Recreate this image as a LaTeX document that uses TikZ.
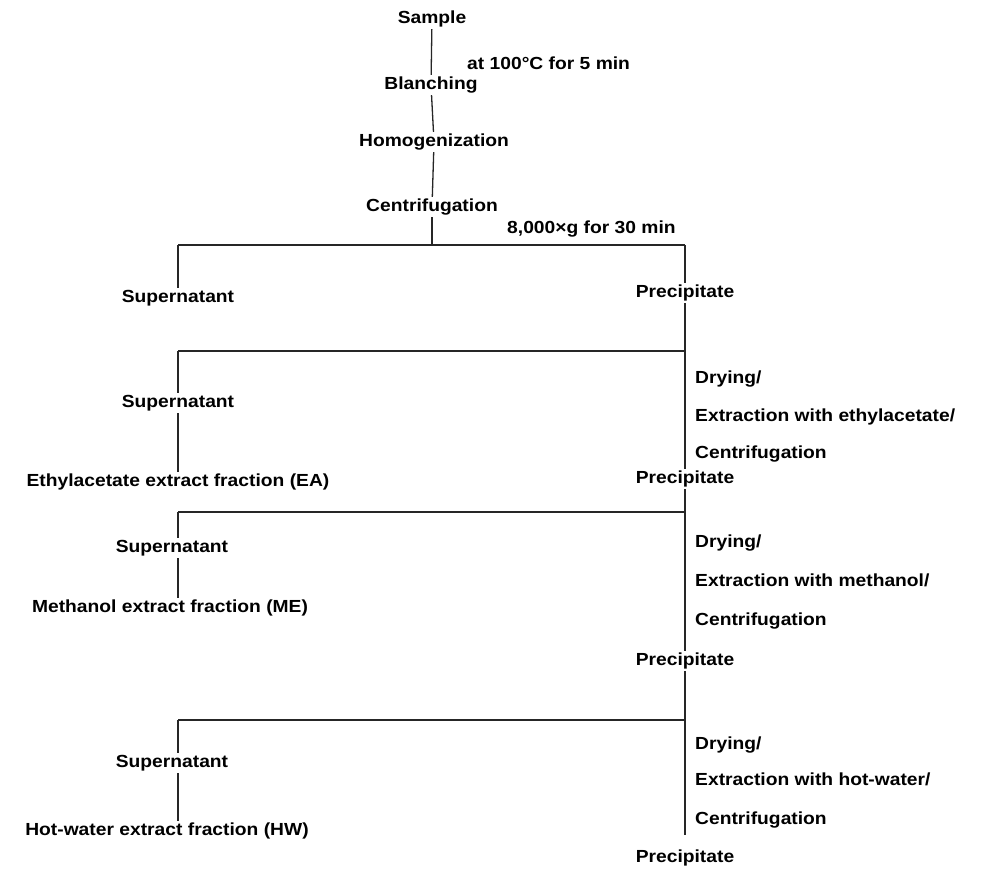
\documentclass[tikz,border=0pt]{standalone}
\usepackage{fontspec}
\setmainfont{Liberation Sans}[FakeStretch=1.1]
\begin{document}
\begin{tikzpicture}[x=1pt,y=-1pt,
  lbl/.style={font=\fontsize{17.5}{20}\selectfont\bfseries, inner sep=2pt, text height=12.5pt, text depth=3.5pt},
  cond/.style={lbl, anchor=west},
  ln/.style={line width=1.3pt, draw=black!85}]
\useasboundingbox (0,0) rectangle (981,868);
% main spine
\node[lbl] (sample) at (432,19) {Sample};
\node[cond] (c1) at (465,65) {at 100°C for 5 min};
\node[lbl] (blanch) at (431,85) {Blanching};
\node[lbl] (homog) at (434,142) {Homogenization};
\node[lbl] (centr) at (432,207) {Centrifugation};
\node[cond] (c2) at (505,229) {8,000×g for 30 min};
\coordinate (b1l) at (178,245);
\coordinate (b1r) at (685,245);
\coordinate (b1m) at (432,245);
\draw[ln] (sample) -- (blanch);
\draw[ln] (blanch) -- (homog);
\draw[ln] (homog) -- (centr);
\draw[ln] (centr) -- (b1m);
\draw[ln] (b1l) -- (b1r);
% first split
\node[lbl] (sup1) at (178,298) {Supernatant};
\node[lbl] (prec1) at (685,293) {Precipitate};
\draw[ln] (b1l) -- (sup1);
\draw[ln] (b1r) -- (prec1);
% second split (EA)
\coordinate (b2l) at (178,351);
\coordinate (b2r) at (685,351);
\node[lbl] (prec2) at (685,479) {Precipitate};
\draw[ln] (prec1) -- (prec2);
\draw[ln] (b2l) -- (b2r);
\node[lbl] (sup2) at (178,403) {Supernatant};
\node[lbl] (ea) at (178,482) {Ethylacetate extract fraction (EA)};
\draw[ln] (b2l) -- (sup2);
\draw[ln] (sup2) -- (ea);
\node[cond] (d2a) at (693,379) {Drying/};
\node[cond] (d2b) at (693,417) {Extraction with ethylacetate/};
\node[cond] (d2c) at (693,454) {Centrifugation};
% third split (ME)
\coordinate (b3l) at (178,512);
\coordinate (b3r) at (685,512);
\node[lbl] (prec3) at (685,661) {Precipitate};
\draw[ln] (prec2) -- (prec3);
\draw[ln] (b3l) -- (b3r);
\node[lbl] (sup3) at (172,548) {Supernatant};
\node[lbl] (me) at (170,608) {Methanol extract fraction (ME)};
\draw[ln] (b3l) -- (sup3.north -| b3l);
\draw[ln] (sup3.south -| b3l) -- (me.north -| b3l);
\node[cond] (d3a) at (693,543) {Drying/};
\node[cond] (d3b) at (693,582) {Extraction with methanol/};
\node[cond] (d3c) at (693,621) {Centrifugation};
% fourth split (HW)
\coordinate (b4l) at (178,720);
\coordinate (b4r) at (685,720);
\node[lbl] (prec4) at (685,858) {Precipitate};
\coordinate (end4) at (685,835);
\draw[ln] (prec3) -- (end4);
\draw[ln] (b4l) -- (b4r);
\node[lbl] (sup4) at (172,763) {Supernatant};
\node[lbl] (hw) at (167,831) {Hot-water extract fraction (HW)};
\draw[ln] (b4l) -- (sup4.north -| b4l);
\draw[ln] (sup4.south -| b4l) -- (hw.north -| b4l);
\node[cond] (d4a) at (693,745) {Drying/};
\node[cond] (d4b) at (693,781) {Extraction with hot-water/};
\node[cond] (d4c) at (693,820) {Centrifugation};
\end{tikzpicture}
\end{document}
